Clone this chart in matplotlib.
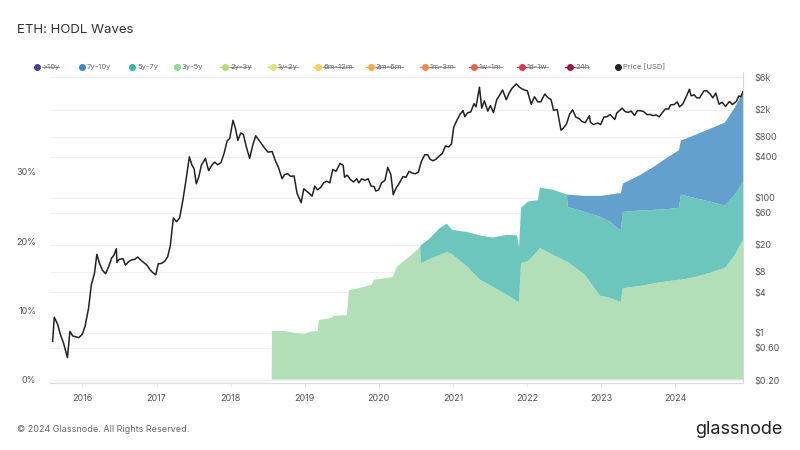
import matplotlib
matplotlib.use("Agg")
import matplotlib.pyplot as plt
import matplotlib.dates as mdates
from matplotlib.lines import Line2D
import pandas as pd

plt.rcParams['font.family'] = ['Inter', 'DejaVu Sans']

# ETH price (USD), roughly twice a month
price_dates = [
    "2015-08-08", "2015-08-16", "2015-09-01", "2015-09-15", "2015-10-01", "2015-10-20", "2015-11-01", "2015-11-15",
    "2015-12-01", "2015-12-15", "2016-01-01", "2016-01-15", "2016-02-01", "2016-02-15", "2016-03-01", "2016-03-13",
    "2016-03-25", "2016-04-10", "2016-04-25", "2016-05-10", "2016-05-25", "2016-06-05", "2016-06-17", "2016-06-20",
    "2016-07-01", "2016-07-20", "2016-08-01", "2016-08-15", "2016-09-01", "2016-09-15", "2016-10-01", "2016-10-15",
    "2016-11-01", "2016-11-15", "2016-12-01", "2016-12-15", "2016-12-28", "2017-01-10", "2017-01-25", "2017-02-10",
    "2017-02-25", "2017-03-10", "2017-03-25", "2017-04-10", "2017-04-25", "2017-05-10", "2017-05-25", "2017-06-12",
    "2017-06-25", "2017-07-05", "2017-07-16", "2017-07-28", "2017-08-10", "2017-08-30", "2017-09-15", "2017-09-30",
    "2017-10-15", "2017-10-30", "2017-11-15", "2017-11-30", "2017-12-15", "2017-12-28", "2018-01-13", "2018-01-25",
    "2018-02-06", "2018-02-20", "2018-03-05", "2018-03-20", "2018-04-05", "2018-04-20", "2018-05-05", "2018-05-20",
    "2018-06-05", "2018-06-20", "2018-07-05", "2018-07-25", "2018-08-10", "2018-08-25", "2018-09-12", "2018-09-25",
    "2018-10-10", "2018-10-25", "2018-11-10", "2018-11-25", "2018-12-15", "2018-12-28", "2019-01-10", "2019-01-25",
    "2019-02-07", "2019-02-20", "2019-03-05", "2019-03-20", "2019-04-05", "2019-04-20", "2019-05-05", "2019-05-20",
    "2019-06-05", "2019-06-25", "2019-07-10", "2019-07-17", "2019-07-30", "2019-08-15", "2019-08-30", "2019-09-15",
    "2019-09-25", "2019-10-10", "2019-10-26", "2019-11-10", "2019-11-25", "2019-12-10", "2019-12-18", "2020-01-01",
    "2020-01-15", "2020-02-01", "2020-02-15", "2020-03-01", "2020-03-13", "2020-03-25", "2020-04-10", "2020-04-30",
    "2020-05-15", "2020-05-30", "2020-06-15", "2020-06-30", "2020-07-15", "2020-07-30", "2020-08-15", "2020-08-30",
    "2020-09-10", "2020-09-25", "2020-10-10", "2020-10-25", "2020-11-10", "2020-11-25", "2020-12-10", "2020-12-25",
    "2021-01-05", "2021-01-20", "2021-02-05", "2021-02-20", "2021-03-01", "2021-03-15", "2021-03-30", "2021-04-15",
    "2021-04-25", "2021-05-12", "2021-05-23", "2021-06-05", "2021-06-22", "2021-07-05", "2021-07-20", "2021-08-05",
    "2021-08-20", "2021-09-03", "2021-09-21", "2021-10-05", "2021-10-20", "2021-11-10", "2021-11-25", "2021-12-05",
    "2021-12-20", "2022-01-03", "2022-01-22", "2022-02-07", "2022-02-24", "2022-03-10", "2022-03-30", "2022-04-15",
    "2022-04-30", "2022-05-12", "2022-05-30", "2022-06-18", "2022-06-30", "2022-07-15", "2022-07-30", "2022-08-14",
    "2022-08-30", "2022-09-15", "2022-09-30", "2022-10-15", "2022-11-05", "2022-11-10", "2022-11-25", "2022-12-15",
    "2022-12-30", "2023-01-15", "2023-01-30", "2023-02-15", "2023-03-10", "2023-03-20", "2023-04-15", "2023-04-30",
    "2023-05-15", "2023-05-30", "2023-06-15", "2023-06-30", "2023-07-15", "2023-07-30", "2023-08-17", "2023-08-30",
    "2023-09-15", "2023-09-30", "2023-10-15", "2023-10-30", "2023-11-15", "2023-11-30", "2023-12-10", "2023-12-28",
    "2024-01-12", "2024-01-23", "2024-02-08", "2024-02-25", "2024-03-12", "2024-03-20", "2024-04-05", "2024-04-17",
    "2024-05-01", "2024-05-22", "2024-06-05", "2024-06-24", "2024-07-05", "2024-07-20", "2024-08-05", "2024-08-20",
    "2024-09-06", "2024-09-25", "2024-10-10", "2024-10-29", "2024-11-10", "2024-11-20", "2024-12-01",
]
price = [
    0.75, 1.70, 1.35, 0.95, 0.70, 0.43, 1.05, 0.90,
    0.87, 0.85, 0.95, 1.25, 2.3, 5.2, 7.5, 14.5,
    10.8, 8.4, 7.5, 9.5, 12.8, 14.0, 17.5, 11.0,
    12.2, 12.5, 10.0, 11.2, 12.0, 12.2, 13.2, 11.9,
    10.8, 10.0, 8.5, 7.7, 7.2, 10.5, 10.6, 11.4,
    13.3, 19.5, 50.0, 44.0, 50.0, 88.0, 170, 400,
    300, 270, 160, 200, 300, 380, 250, 300,
    335, 305, 330, 450, 690, 750, 1390, 1060,
    700, 900, 860, 560, 380, 590, 820, 710,
    610, 530, 470, 480, 350, 280, 190, 220,
    225, 205, 210, 115, 84, 135, 125, 115,
    105, 148, 130, 140, 165, 175, 165, 260,
    245, 320, 300, 200, 215, 185, 170, 190,
    165, 190, 180, 190, 148, 145, 125, 130,
    165, 180, 280, 220, 110, 135, 160, 205,
    200, 245, 230, 225, 238, 345, 430, 430,
    370, 350, 370, 410, 450, 580, 560, 620,
    1100, 1380, 1700, 1935, 1570, 1800, 1850, 2450,
    2200, 4300, 2100, 2700, 1900, 2300, 1800, 2800,
    3300, 3900, 2800, 3500, 4150, 4800, 4300, 4100,
    3900, 3800, 2400, 3100, 2600, 2600, 3400, 3000,
    2800, 1960, 2000, 990, 1070, 1230, 1700, 1980,
    1550, 1470, 1330, 1280, 1630, 1300, 1200, 1270,
    1200, 1550, 1570, 1690, 1430, 1780, 2100, 1870,
    1820, 1900, 1640, 1930, 1930, 1870, 1680, 1700,
    1630, 1670, 1560, 1800, 2050, 2040, 2350, 2380,
    2600, 2200, 2420, 3100, 4000, 3200, 3300, 2990,
    2970, 3780, 3810, 3350, 2980, 3500, 2400, 2570,
    2230, 2640, 2380, 2640, 3180, 3100, 3700,
]

# supply share (%) held per age band
wave_dates = [
    "2018-07-23", "2018-07-24", "2018-09-25", "2018-11-23", "2019-01-02", "2019-01-27", "2019-03-07", "2019-03-12",
    "2019-05-15", "2019-05-25", "2019-07-28", "2019-08-07", "2019-09-30", "2019-11-28", "2019-12-08", "2020-03-11",
    "2020-03-31", "2020-06-03", "2020-07-23", "2020-07-28", "2020-09-10", "2020-10-29", "2020-12-03", "2020-12-28",
    "2021-03-12", "2021-05-15", "2021-07-17", "2021-09-25", "2021-11-13", "2021-11-23", "2021-12-03", "2022-01-06",
    "2022-02-24", "2022-03-06", "2022-05-10", "2022-07-17", "2022-07-22", "2022-10-14", "2022-12-27", "2023-02-14",
    "2023-03-30", "2023-04-09", "2023-04-19", "2023-07-11", "2023-09-23", "2023-11-26", "2024-01-20", "2024-01-30",
    "2024-04-08", "2024-06-21", "2024-09-03", "2024-10-22", "2024-12-01",
]
band_3y_5y = [
    0, 7.0, 7.0, 6.7, 6.6, 6.9, 7.0, 8.6,
    8.9, 9.2, 9.3, 12.9, 13.2, 13.7, 14.4, 14.8,
    16.3, 17.8, 19.1, 16.8, 17.4, 18.0, 18.4, 18.1,
    16.3, 14.4, 13.4, 12.2, 11.3, 11.2, 16.8, 17.1,
    18.6, 19.0, 18.0, 17.0, 17.0, 15.1, 12.1, 11.8,
    11.3, 11.2, 13.2, 13.5, 13.9, 14.2, 14.4, 14.4,
    14.8, 15.4, 16.1, 18.0, 20.2,
]
band_5y_7y = [
    0, 0, 0, 0, 0, 0, 0, 0,
    0, 0, 0, 0, 0, 0, 0, 0,
    0, 0, 0, 2.6, 3.0, 3.9, 4.1, 3.5,
    5.0, 6.4, 7.1, 8.7, 9.5, 7.9, 8.0, 8.6,
    7.3, 8.7, 9.4, 9.7, 7.9, 9.1, 11.4, 11.0,
    10.4, 10.4, 11.0, 10.9, 10.6, 10.4, 10.4, 12.3,
    11.4, 10.3, 9.0, 8.7, 8.3,
]
band_7y_10y = [
    0, 0, 0, 0, 0, 0, 0, 0,
    0, 0, 0, 0, 0, 0, 0, 0,
    0, 0, 0, 0, 0, 0, 0, 0,
    0, 0, 0, 0, 0, 0, 0, 0,
    0, 0, 0, 0, 1.8, 2.3, 3.0, 3.9,
    5.2, 5.3, 4.1, 5.1, 6.3, 7.5, 8.3, 7.8,
    9.1, 10.5, 12.0, 12.6, 13.0,
]

legend_labels = [">10y", "7y-10y", "5y-7y", "3y-5y", "2y-3y", "1y-2y", "6m-12m", "3m-6m",
                 "1m-3m", "1w-1m", "1d-1w", "24h", "Price [USD]"]
legend_colors = ["#4a3f98", "#3f86c4", "#3bb5a9", "#8fd69c", "#b5dc7a", "#dfe47c", "#f3cf5e", "#f2aa4a",
                 "#ee8b4b", "#e5624f", "#d23b53", "#98164f", "#222222"]
legend_off = [">10y", "2y-3y", "1y-2y", "6m-12m", "3m-6m", "1m-3m", "1w-1m", "1d-1w", "24h"]

price_ticks = [6000, 2000, 800, 400, 100, 60, 20, 8, 4, 1, 0.6, 0.2]
price_tick_labels = ["$6k", "$2k", "$800", "$400", "$100", "$60", "$20", "$8", "$4", "$1", "$0.60", "$0.20"]

pd_price = pd.to_datetime(price_dates)
pd_wave = pd.to_datetime(wave_dates)

W, H = 800, 450
rect = [50 / W, 1 - 383 / H, (743 - 50) / W, (383 - 72) / H]
fig = plt.figure(figsize=(8, 4.5), dpi=100)

# grid lives on its own axes underneath everything
bg = fig.add_axes(rect, zorder=0)
bg.set_yscale("log")
bg.set_ylim(0.181, 7200)
bg.set_yticks(price_ticks)
bg.minorticks_off()
bg.grid(axis="y", color="#f0f0f0", linewidth=0.7)
bg.set_xticks([])
bg.tick_params(axis="y", length=0, labelleft=False)
for s in bg.spines.values():
    s.set_visible(False)

ax = fig.add_axes(rect, zorder=1)
ax.patch.set_visible(False)
ax.stackplot(pd_wave, band_3y_5y, band_5y_7y, band_7y_10y,
             colors=["#b2dfb8", "#6dc6bd", "#63a0cd"], linewidth=0)
ax.set_ylim(-0.5, 44.4)
ax.set_yticks([0, 10, 20, 30])
ax.set_yticklabels(["0%", "10%", "20%", "30%"])
ax.set_xlim(pd.Timestamp("2015-07-26"), pd.Timestamp("2024-12-01"))
ax.xaxis.set_major_locator(mdates.YearLocator())
ax.xaxis.set_major_formatter(mdates.DateFormatter("%Y"))

ax2 = ax.twinx()
ax2.set_zorder(2)
ax2.patch.set_visible(False)
ax2.set_yscale("log")
ax2.plot(pd_price, price, color="#222222", linewidth=1.1)
ax2.set_ylim(0.181, 7200)
ax2.set_yticks(price_ticks)
ax2.set_yticklabels(price_tick_labels)
ax2.minorticks_off()

for a in (ax, ax2):
    for s in ("top", "left", "right"):
        a.spines[s].set_visible(False)
    a.spines["bottom"].set_color("#dddddd")
    a.tick_params(axis="y", length=0, labelsize=6.5, labelcolor="#555555")
ax2.spines["right"].set_visible(True)
ax2.spines["right"].set_color("#d8d8d8")
ax.tick_params(axis="y", pad=10)
ax2.tick_params(axis="y", pad=8)
ax.tick_params(axis="x", length=3, color="#e6e6e6", labelsize=6.5, labelcolor="#555555", pad=5)

fig.text(17 / W, 1 - 30 / H, "ETH: HODL Waves", fontsize=9.5, color="#333333", va="center")

# legend row
dot_x = [37, 82, 132, 177, 225, 273, 318, 371, 425, 474, 522, 570, 618]
ly = 1 - 67 / H
texts = []
for x, lab, col in zip(dot_x, legend_labels, legend_colors):
    if lab in legend_off and lab != ">10y":
        fig.add_artist(Line2D([(x - 5) / W, (x + 5) / W], [ly, ly], color=col, linewidth=1.0,
                              transform=fig.transFigure))
    fig.add_artist(Line2D([x / W], [ly], marker="o", markersize=4, color=col, linestyle="none",
                          transform=fig.transFigure))
    t = fig.text((x + 5) / W, ly, lab, fontsize=5.5, color="#666666", va="center")
    texts.append((t, lab))

fig.canvas.draw()
r = fig.canvas.get_renderer()
for t, lab in texts:
    if lab in legend_off:
        bb = t.get_window_extent(renderer=r)
        fig.add_artist(Line2D([bb.x0 / W, bb.x1 / W], [ly, ly], color="#888888", linewidth=0.6,
                              transform=fig.transFigure))

fig.text(17 / W, 1 - 430 / H, "\u00a9 2024 Glassnode. All Rights Reserved.", fontsize=6.5,
         color="#666666", va="center")
fig.text(783 / W, 1 - 429 / H, "glassnode", fontsize=13, color="#222222", va="center", ha="right")

fig.savefig("out.png", dpi=100)
